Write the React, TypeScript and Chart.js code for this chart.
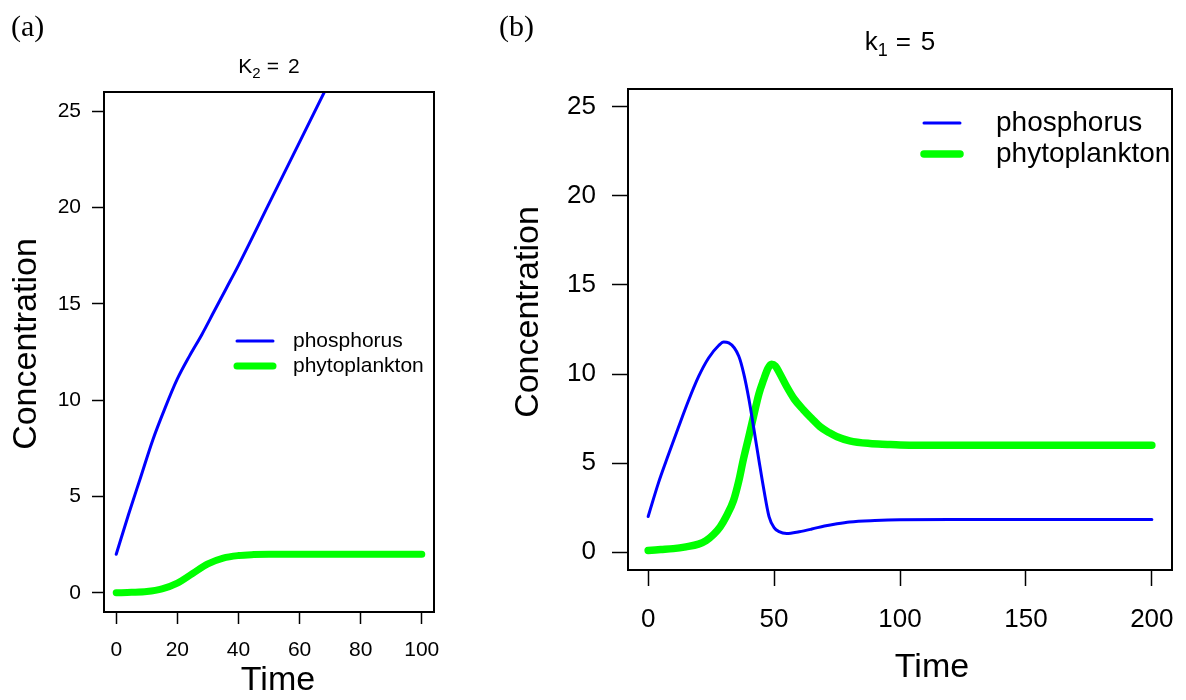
import React, { useEffect, useRef } from "react";
import { Chart, registerables } from "chart.js";

Chart.register(...registerables);

// ---------- Data ----------
const legendLabels = ["phosphorus", "phytoplankton"];
const yTickValues = [0, 5, 10, 15, 20, 25];
const xTicksA = [0, 20, 40, 60, 80, 100];
const xTicksB = [0, 50, 100, 150, 200];

// Panel (a): K2 = 2
const timeAPhos = [0, 4, 8, 12, 16, 20, 24, 28, 32, 36, 40, 50, 60, 70];
const phosphorusA = [2.0, 4.05, 6.0, 7.95, 9.6, 11.1, 12.3, 13.4, 14.6, 15.8, 17.0, 20.2, 23.4, 26.6];
const timeAPhyto = [0, 5, 10, 15, 20, 25, 30, 35, 40, 45, 50, 60, 80, 100];
const phytoplanktonA = [0, 0.02, 0.06, 0.2, 0.5, 1.0, 1.5, 1.8, 1.93, 1.98, 2.0, 2.0, 2.0, 2.0];

// Panel (b): k1 = 5
const timeBPhos = [0, 4, 8, 12, 16, 20, 24, 28, 30, 32, 36, 38, 40, 42, 44, 46, 48, 50, 52, 55, 60, 65, 70, 75, 80, 90, 100, 120, 150, 200];
const phosphorusB = [2.0, 3.85, 5.45, 7.0, 8.5, 9.85, 10.9, 11.6, 11.8, 11.75, 11.0, 10.0, 8.6, 6.9, 5.15, 3.46, 2.0, 1.38, 1.15, 1.05, 1.15, 1.3, 1.47, 1.6, 1.7, 1.78, 1.82, 1.83, 1.83, 1.83];
const timeBPhyto = [0, 5, 10, 15, 20, 23, 26, 28.6, 31, 33.9, 36, 37.8, 40, 41.8, 44, 45.8, 47.5, 49, 50.5, 52, 55, 58, 61.6, 65, 68.3, 72, 75, 80, 88, 95, 100, 120, 150, 200];
const phytoplanktonB = [0.1, 0.15, 0.2, 0.3, 0.45, 0.65, 1.0, 1.42, 2.0, 2.9, 4.0, 5.2, 6.5, 7.6, 8.9, 9.66, 10.3, 10.55, 10.45, 10.1, 9.3, 8.6, 8.0, 7.5, 7.04, 6.7, 6.48, 6.25, 6.1, 6.05, 6.02, 6.0, 6.0, 6.0];

const FONT = '"Liberation Sans", Arial, Helvetica, sans-serif';
const BLUE = "#0000FF";
const GREEN = "#00FF00";

// ---------- Plugins ----------
const framePlugin = {
  id: "rFrame",
  afterDatasetsDraw(chart: any, _args: any, o: any) {
    const { ctx, chartArea: a } = chart;
    ctx.save();
    ctx.strokeStyle = "#000";
    ctx.lineWidth = o.width || 2;
    ctx.strokeRect(a.left, a.top, a.right - a.left, a.bottom - a.top);
    ctx.restore();
  },
};

const legendPlugin = {
  id: "rLegend",
  afterDraw(chart: any, _args: any, o: any) {
    const ctx = chart.ctx;
    chart.data.datasets.forEach((ds: any, i: number) => {
      const y = o.y + i * o.gap;
      ctx.save();
      ctx.strokeStyle = ds.borderColor;
      ctx.lineWidth = ds.borderWidth;
      ctx.lineCap = "round";
      ctx.beginPath();
      ctx.moveTo(o.x1, y);
      ctx.lineTo(o.x2, y);
      ctx.stroke();
      ctx.fillStyle = "#000";
      ctx.font = `${o.size}px ${FONT}`;
      ctx.textBaseline = "middle";
      ctx.textAlign = "left";
      ctx.fillText(ds.label, o.textX, y);
      ctx.restore();
    });
  },
};

const axisTitlePlugin = {
  id: "rAxisTitles",
  afterDraw(chart: any, _args: any, o: any) {
    const ctx = chart.ctx;
    ctx.save();
    ctx.fillStyle = "#000";
    ctx.font = `${o.size}px ${FONT}`;
    ctx.textAlign = "center";
    ctx.textBaseline = "middle";
    ctx.fillText(o.xText, o.xX, o.xY);
    ctx.translate(o.yX, o.yY);
    ctx.rotate(-Math.PI / 2);
    ctx.fillText(o.yText, 0, 0);
    ctx.restore();
  },
};

type PanelCfg = {
  left: number;
  width: number;
  padTop: number;
  padRight: number;
  yWidth: number;
  xHeight: number;
  xMin: number;
  xMax: number;
  xTicks: number[];
  tickSize: number;
  tickLen: number;
  yTickPad: number;
  xTickPad: number;
  pTime: number[];
  pVal: number[];
  gTime: number[];
  gVal: number[];
  blueW: number;
  greenW: number;
  legend: any;
  titles: any;
};

function Panel({ cfg }: { cfg: PanelCfg }) {
  const ref = useRef<HTMLCanvasElement>(null);
  useEffect(() => {
    const common = {
      pointRadius: 0,
      pointHoverRadius: 0,
      fill: false,
      cubicInterpolationMode: "monotone" as const,
      borderCapStyle: "round" as const,
      borderJoinStyle: "round" as const,
      clip: 0,
    };
    const gridCfg = {
      display: true,
      drawOnChartArea: false,
      drawTicks: true,
      tickLength: cfg.tickLen,
      tickWidth: 1.5,
      tickColor: "#000",
    };
    const chart = new Chart(ref.current as HTMLCanvasElement, {
      type: "line",
      data: {
        datasets: [
          {
            label: legendLabels[0],
            data: cfg.pTime.map((t, i) => ({ x: t, y: cfg.pVal[i] })),
            borderColor: BLUE,
            borderWidth: cfg.blueW,
            ...common,
          },
          {
            label: legendLabels[1],
            data: cfg.gTime.map((t, i) => ({ x: t, y: cfg.gVal[i] })),
            borderColor: GREEN,
            borderWidth: cfg.greenW,
            ...common,
          },
        ],
      },
      options: {
        animation: false,
        responsive: false,
        devicePixelRatio: 1,
        layout: { padding: { left: 0, top: cfg.padTop, right: cfg.padRight, bottom: 0 } },
        scales: {
          x: {
            type: "linear",
            min: cfg.xMin,
            max: cfg.xMax,
            bounds: "data",
            afterBuildTicks: (s: any) => {
              s.ticks = cfg.xTicks.map((v) => ({ value: v }));
            },
            afterFit: (s: any) => {
              s.height = cfg.xHeight;
              s.paddingLeft = 0;
              s.paddingRight = 0;
            },
            grid: gridCfg,
            border: { display: false },
            ticks: {
              font: { size: cfg.tickSize, family: FONT },
              color: "#000",
              padding: cfg.xTickPad,
              autoSkip: false,
              maxRotation: 0,
              minRotation: 0,
            },
          },
          y: {
            type: "linear",
            min: -1,
            max: 26,
            bounds: "data",
            afterBuildTicks: (s: any) => {
              s.ticks = yTickValues.map((v) => ({ value: v }));
            },
            afterFit: (s: any) => {
              s.width = cfg.yWidth;
              s.paddingTop = 0;
              s.paddingBottom = 0;
            },
            grid: gridCfg,
            border: { display: false },
            ticks: {
              font: { size: cfg.tickSize, family: FONT },
              color: "#000",
              padding: cfg.yTickPad,
              autoSkip: false,
            },
          },
        },
        plugins: {
          legend: { display: false },
          tooltip: { enabled: false },
          rFrame: { width: 2 },
          rLegend: cfg.legend,
          rAxisTitles: cfg.titles,
        } as any,
      },
      plugins: [framePlugin, legendPlugin, axisTitlePlugin],
    });
    return () => chart.destroy();
  }, []);
  return (
    <div style={{ position: "absolute", left: cfg.left, top: 0, width: cfg.width, height: 700 }}>
      <canvas ref={ref} width={cfg.width} height={700} style={{ display: "block" }} />
    </div>
  );
}

const panelA: PanelCfg = {
  left: 0,
  width: 470,
  padTop: 92,
  padRight: 36,
  yWidth: 104,
  xHeight: 88,
  xMin: -4,
  xMax: 104,
  xTicks: xTicksA,
  tickSize: 21,
  tickLen: 12,
  yTickPad: 11,
  xTickPad: 14,
  pTime: timeAPhos,
  pVal: phosphorusA,
  gTime: timeAPhyto,
  gVal: phytoplanktonA,
  blueW: 3,
  greenW: 7,
  legend: { x1: 237, x2: 273, y: 341, gap: 25, textX: 293, size: 21 },
  titles: { size: 34, xText: "Time", xX: 278, xY: 681, yText: "Concentration", yX: 27, yY: 344 },
};

const panelB: PanelCfg = {
  left: 480,
  width: 706,
  padTop: 89,
  padRight: 14,
  yWidth: 148,
  xHeight: 130,
  xMin: -8,
  xMax: 208,
  xTicks: xTicksB,
  tickSize: 26,
  tickLen: 16,
  yTickPad: 16,
  xTickPad: 18,
  pTime: timeBPhos,
  pVal: phosphorusB,
  gTime: timeBPhyto,
  gVal: phytoplanktonB,
  blueW: 3,
  greenW: 7.5,
  legend: { x1: 444, x2: 480, y: 123, gap: 31, textX: 516, size: 28 },
  titles: { size: 34, xText: "Time", xX: 452, xY: 668, yText: "Concentration", yX: 49, yY: 312 },
};

const labelStyle: React.CSSProperties = {
  position: "absolute",
  fontFamily: '"Liberation Serif", "Times New Roman", serif',
  fontSize: 30,
  lineHeight: "30px",
  color: "#000",
  whiteSpace: "nowrap",
};

const titleStyle = (size: number): React.CSSProperties => ({
  position: "absolute",
  fontFamily: FONT,
  fontSize: size,
  lineHeight: `${size}px`,
  color: "#000",
  textAlign: "center",
  whiteSpace: "nowrap",
});

export default function App() {
  return (
    <div style={{ position: "absolute", left: 0, top: 0, width: 1186, height: 700, background: "#fff", overflow: "hidden" }}>
      <Panel cfg={panelA} />
      <Panel cfg={panelB} />
      <div style={{ ...labelStyle, left: 11, top: 11 }}>(a)</div>
      <div style={{ ...labelStyle, left: 499, top: 11 }}>(b)</div>
      <div style={{ ...titleStyle(21), left: 169, top: 55, width: 200 }}>
        K<span style={{ fontSize: 15, position: "relative", top: 5 }}>2</span>
        <span style={{ margin: "0 9px 0 6px" }}>=</span>2
      </div>
      <div style={{ ...titleStyle(26), left: 800, top: 28, width: 200 }}>
        k<span style={{ fontSize: 18, position: "relative", top: 6 }}>1</span>
        <span style={{ margin: "0 10px 0 8px" }}>=</span>5
      </div>
    </div>
  );
}
